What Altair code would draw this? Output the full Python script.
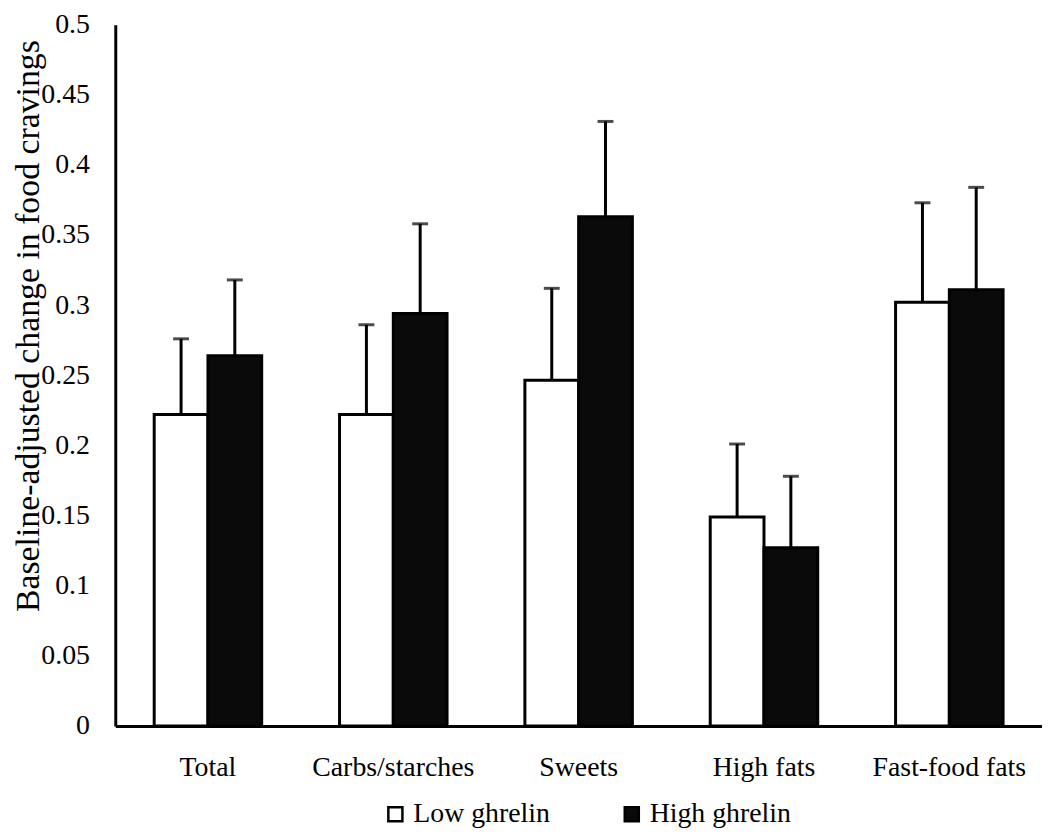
import altair as alt
import pandas as pd

categories = ["Total", "Carbs/starches", "Sweets", "High fats", "Fast-food fats"]
groups = ["Low ghrelin", "High ghrelin"]
low_vals = [0.222, 0.222, 0.2465, 0.149, 0.302]
high_vals = [0.264, 0.294, 0.363, 0.127, 0.311]
low_err_top = [0.276, 0.286, 0.312, 0.201, 0.373]
high_err_top = [0.318, 0.358, 0.431, 0.178, 0.384]
y_ticks = [0, 0.05, 0.1, 0.15, 0.2, 0.25, 0.3, 0.35, 0.4, 0.45, 0.5]

rows = []
for i, c in enumerate(categories):
    rows.append({"cat": c, "group": groups[0], "value": low_vals[i], "err": low_err_top[i]})
    rows.append({"cat": c, "group": groups[1], "value": high_vals[i], "err": high_err_top[i]})
df = pd.DataFrame(rows)

FONT = "Liberation Serif"

x = alt.X("cat:N", sort=categories, title=None,
          scale=alt.Scale(paddingInner=0.42, paddingOuter=0.21),
          axis=alt.Axis(labelAngle=0, labelFontSize=28, labelFont=FONT, labelColor="black",
                        ticks=False, domainColor="black", domainWidth=3, labelPadding=28))
xo = alt.XOffset("group:N", sort=groups, scale=alt.Scale(paddingInner=0, paddingOuter=0))
y = alt.Y("value:Q", scale=alt.Scale(domain=[0, 0.5], nice=False, zero=True),
          axis=alt.Axis(values=y_ticks, format="~g", grid=False, ticks=False,
                        labelFontSize=28, labelFont=FONT, labelColor="black", labelPadding=26,
                        domainColor="black", domainWidth=3,
                        title="Baseline-adjusted change in food cravings",
                        titleFont=FONT, titleFontSize=34, titleFontWeight="normal",
                        titleColor="black", titleAngle=270, titleX=-87, titleY=303,
                        titleAlign="center", titleBaseline="middle"))

bars = alt.Chart(df).mark_bar(stroke="black", strokeWidth=3).encode(
    x=x, xOffset=xo, y=y,
    fill=alt.Fill("group:N", sort=groups,
                  scale=alt.Scale(domain=groups, range=["white", "#0a0a0a"]),
                  legend=alt.Legend(title=None, orient="none", legendX=268, legendY=781,
                                    direction="horizontal", symbolType="square",
                                    symbolSize=200, symbolStrokeColor="black",
                                    symbolStrokeWidth=2.5, labelFont=FONT, labelFontSize=28,
                                    labelColor="black", labelOffset=4, columnPadding=68,
                                    padding=0)),
)

stems = alt.Chart(df).mark_rule(color="black", strokeWidth=3).encode(
    x=alt.X("cat:N", sort=categories), xOffset=alt.XOffset("group:N", sort=groups),
    y=alt.Y("value:Q"), y2="err:Q",
)

caps = alt.Chart(df).mark_tick(color="black", thickness=3, size=16, orient="horizontal").encode(
    x=alt.X("cat:N", sort=categories), xOffset=alt.XOffset("group:N", sort=groups),
    y=alt.Y("err:Q"),
)

chart = (
    alt.layer(bars, stems, caps)
    .properties(
        width=933, height=706,
        autosize=alt.AutoSizeParams(type="none"),
        padding={"left": 108, "top": 14, "right": 0, "bottom": 100},
    )
    .configure(background="white", font=FONT)
    .configure_view(stroke=None)
    .configure_axis(labelFont=FONT, titleFont=FONT)
    .configure_legend(labelFont=FONT)
)

chart.save("out.html", embed_options={"renderer": "svg", "actions": False})
